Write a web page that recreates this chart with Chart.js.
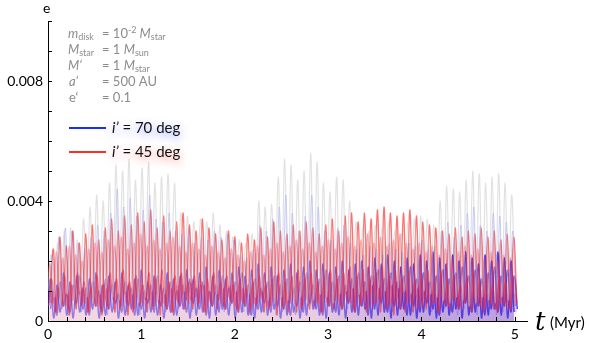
<!DOCTYPE html>
<html>
<head>
<meta charset="utf-8">
<script src="https://cdn.jsdelivr.net/npm/chart.js@4.4.1/dist/chart.umd.min.js"></script>
<style>
  html, body { margin: 0; background: #fff; }
</style>
</head>
<body>
<canvas id="chart" width="589" height="343"></canvas>
<script>
// time grid: one peak and one trough per half step (Myr)
const halfStep = 5 / 144;
const xLabels = [0, 1, 2, 3, 4, 5];
const yLabels = [0, 0.004, 0.008];

// eccentricity, peaks and troughs of each track
const grayPeaks = [
  0.0022, 0.0026, 0.0030, 0.0031, 0.0027, 0.0034, 0.0038, 0.0042, 0.0040, 0.0046,
  0.0052, 0.0050, 0.0054, 0.0047, 0.0051, 0.0053, 0.0046, 0.0048, 0.0049, 0.0046,
  0.0036, 0.0035, 0.0033, 0.0034, 0.0033, 0.0036, 0.0032, 0.0030, 0.0028, 0.0027,
  0.0026, 0.0029, 0.0040, 0.0038, 0.0039, 0.0048, 0.0054, 0.0052, 0.0047, 0.0050,
  0.0056, 0.0053, 0.0046, 0.0043, 0.0048, 0.0047, 0.0040, 0.0033, 0.0031, 0.0030,
  0.0032, 0.0031, 0.0033, 0.0030, 0.0029, 0.0033, 0.0034, 0.0035, 0.0034, 0.0032,
  0.0040, 0.0045, 0.0044, 0.0043, 0.0047, 0.0050, 0.0049, 0.0046, 0.0048, 0.0049,
  0.0046, 0.0042
];
const grayLows = [
  0.0010, 0.0008, 0.0006, 0.0009, 0.0007, 0.0010, 0.0008, 0.0006, 0.0009, 0.0011,
  0.0008, 0.0007, 0.0010, 0.0009, 0.0006, 0.0008, 0.0010, 0.0007, 0.0009, 0.0011,
  0.0012, 0.0010, 0.0013, 0.0011, 0.0012, 0.0010, 0.0009, 0.0011, 0.0012, 0.0010,
  0.0011, 0.0009, 0.0008, 0.0010, 0.0007, 0.0006, 0.0008, 0.0007, 0.0005, 0.0008,
  0.0006, 0.0007, 0.0009, 0.0008, 0.0006, 0.0009, 0.0010, 0.0011, 0.0009, 0.0010,
  0.0012, 0.0011, 0.0010, 0.0012, 0.0011, 0.0010, 0.0009, 0.0011, 0.0010, 0.0009,
  0.0008, 0.0007, 0.0006, 0.0008, 0.0007, 0.0005, 0.0006, 0.0008, 0.0007, 0.0006,
  0.0008, 0.0007, 0.0009
];

const blueFaintPeaks = [
  0.0022, 0.0028, 0.0031, 0.0030, 0.0026, 0.0024, 0.0028, 0.0032, 0.0030, 0.0036,
  0.0044, 0.0038, 0.0041, 0.0035, 0.0037, 0.0042, 0.0034, 0.0033, 0.0036, 0.0030,
  0.0029, 0.0031, 0.0026, 0.0028, 0.0027, 0.0030, 0.0028, 0.0029, 0.0027, 0.0022,
  0.0021, 0.0024, 0.0032, 0.0030, 0.0034, 0.0038, 0.0042, 0.0036, 0.0030, 0.0035,
  0.0042, 0.0038, 0.0030, 0.0027, 0.0031, 0.0032, 0.0026, 0.0024, 0.0022, 0.0025,
  0.0024, 0.0022, 0.0026, 0.0024, 0.0023, 0.0026, 0.0025, 0.0027, 0.0024, 0.0025,
  0.0030, 0.0033, 0.0028, 0.0032, 0.0036, 0.0038, 0.0032, 0.0030, 0.0036, 0.0035,
  0.0033, 0.0030
];
const blueFaintLows = [
  0.0005, 0.0003, 0.0004, 0.0002, 0.0005, 0.0003, 0.0004, 0.0006, 0.0003, 0.0002,
  0.0004, 0.0005, 0.0003, 0.0004, 0.0002, 0.0003, 0.0005, 0.0004, 0.0003, 0.0006,
  0.0004, 0.0005, 0.0003, 0.0004, 0.0006, 0.0005, 0.0004, 0.0003, 0.0005, 0.0004,
  0.0003, 0.0002, 0.0004, 0.0003, 0.0005, 0.0002, 0.0003, 0.0004, 0.0002, 0.0003,
  0.0005, 0.0004, 0.0003, 0.0005, 0.0004, 0.0006, 0.0004, 0.0003, 0.0005, 0.0004,
  0.0006, 0.0005, 0.0004, 0.0003, 0.0005, 0.0004, 0.0003, 0.0004, 0.0005, 0.0003,
  0.0002, 0.0004, 0.0003, 0.0002, 0.0004, 0.0003, 0.0002, 0.0003, 0.0004, 0.0002,
  0.0003, 0.0004, 0.0003
];

const redHighPeaks = [
  0.0024, 0.0028, 0.0025, 0.0030, 0.0026, 0.0029, 0.0032, 0.0027, 0.0031, 0.0034,
  0.0030, 0.0035, 0.0032, 0.0036, 0.0033, 0.0037, 0.0031, 0.0035, 0.0030, 0.0033,
  0.0036, 0.0032, 0.0030, 0.0034, 0.0031, 0.0029, 0.0027, 0.0030, 0.0028, 0.0026,
  0.0029, 0.0027, 0.0031, 0.0028, 0.0033, 0.0030, 0.0029, 0.0032, 0.0030, 0.0033,
  0.0031, 0.0029, 0.0032, 0.0034, 0.0030, 0.0035, 0.0036, 0.0033, 0.0036, 0.0034,
  0.0037, 0.0038, 0.0036, 0.0035, 0.0036, 0.0037, 0.0035, 0.0033, 0.0032, 0.0031,
  0.0030, 0.0029, 0.0031, 0.0028, 0.0030, 0.0029, 0.0031, 0.0028, 0.0030, 0.0027,
  0.0029, 0.0028
];
const redHighLows = [
  0.0006, 0.0003, 0.0005, 0.0002, 0.0004, 0.0006, 0.0003, 0.0005, 0.0002, 0.0004,
  0.0003, 0.0005, 0.0002, 0.0004, 0.0006, 0.0003, 0.0005, 0.0002, 0.0004, 0.0003,
  0.0005, 0.0007, 0.0004, 0.0006, 0.0003, 0.0005, 0.0007, 0.0004, 0.0006, 0.0003,
  0.0005, 0.0004, 0.0006, 0.0003, 0.0005, 0.0002, 0.0004, 0.0006, 0.0003, 0.0005,
  0.0004, 0.0006, 0.0003, 0.0005, 0.0007, 0.0004, 0.0006, 0.0003, 0.0005, 0.0004,
  0.0006, 0.0003, 0.0005, 0.0002, 0.0004, 0.0006, 0.0003, 0.0005, 0.0004, 0.0006,
  0.0003, 0.0005, 0.0007, 0.0004, 0.0006, 0.0003, 0.0005, 0.0004, 0.0006, 0.0003,
  0.0005, 0.0004, 0.0006
];

const redMidPeaks = [
  0.0019, 0.0023, 0.0021, 0.0025, 0.0022, 0.0020, 0.0024, 0.0026, 0.0023, 0.0027,
  0.0025, 0.0028, 0.0024, 0.0026, 0.0029, 0.0025, 0.0027, 0.0024, 0.0026, 0.0028,
  0.0025, 0.0023, 0.0026, 0.0024, 0.0022, 0.0025, 0.0023, 0.0021, 0.0024, 0.0022,
  0.0020, 0.0023, 0.0025, 0.0022, 0.0024, 0.0026, 0.0023, 0.0025, 0.0027, 0.0024,
  0.0026, 0.0023, 0.0025, 0.0027, 0.0024, 0.0026, 0.0028, 0.0025, 0.0027, 0.0029,
  0.0026, 0.0028, 0.0025, 0.0027, 0.0029, 0.0026, 0.0024, 0.0026, 0.0023, 0.0025,
  0.0022, 0.0024, 0.0021, 0.0023, 0.0025, 0.0022, 0.0024, 0.0021, 0.0023, 0.0020,
  0.0022, 0.0021
];
const redMidLows = [
  0.0009, 0.0006, 0.0008, 0.0005, 0.0007, 0.0009, 0.0006, 0.0008, 0.0005, 0.0007,
  0.0010, 0.0007, 0.0009, 0.0006, 0.0008, 0.0005, 0.0007, 0.0009, 0.0006, 0.0008,
  0.0007, 0.0009, 0.0006, 0.0008, 0.0010, 0.0007, 0.0009, 0.0006, 0.0008, 0.0005,
  0.0007, 0.0009, 0.0006, 0.0008, 0.0005, 0.0007, 0.0009, 0.0006, 0.0008, 0.0010,
  0.0007, 0.0009, 0.0006, 0.0008, 0.0005, 0.0007, 0.0009, 0.0006, 0.0008, 0.0007,
  0.0009, 0.0006, 0.0008, 0.0005, 0.0007, 0.0009, 0.0006, 0.0008, 0.0005, 0.0007,
  0.0006, 0.0008, 0.0005, 0.0007, 0.0004, 0.0006, 0.0008, 0.0005, 0.0007, 0.0004,
  0.0006, 0.0005, 0.0007
];

const redLowPeaks = [
  0.0014, 0.0011, 0.0015, 0.0012, 0.0016, 0.0013, 0.0011, 0.0015, 0.0012, 0.0016,
  0.0014, 0.0017, 0.0013, 0.0015, 0.0012, 0.0016, 0.0014, 0.0017, 0.0013, 0.0015,
  0.0016, 0.0013, 0.0015, 0.0012, 0.0014, 0.0016, 0.0013, 0.0015, 0.0012, 0.0014,
  0.0011, 0.0013, 0.0015, 0.0012, 0.0014, 0.0016, 0.0013, 0.0015, 0.0017, 0.0014,
  0.0016, 0.0013, 0.0015, 0.0017, 0.0014, 0.0016, 0.0018, 0.0015, 0.0017, 0.0014,
  0.0016, 0.0018, 0.0015, 0.0017, 0.0014, 0.0016, 0.0013, 0.0015, 0.0017, 0.0014,
  0.0016, 0.0013, 0.0015, 0.0012, 0.0014, 0.0016, 0.0013, 0.0015, 0.0012, 0.0014,
  0.0013, 0.0015
];
const redLowLows = [
  0.0005, 0.0003, 0.0006, 0.0004, 0.0007, 0.0005, 0.0003, 0.0006, 0.0004, 0.0005,
  0.0007, 0.0004, 0.0006, 0.0003, 0.0005, 0.0007, 0.0004, 0.0006, 0.0005, 0.0003,
  0.0006, 0.0004, 0.0007, 0.0005, 0.0003, 0.0006, 0.0004, 0.0005, 0.0007, 0.0004,
  0.0006, 0.0003, 0.0005, 0.0007, 0.0004, 0.0006, 0.0005, 0.0003, 0.0006, 0.0004,
  0.0007, 0.0005, 0.0003, 0.0006, 0.0004, 0.0005, 0.0007, 0.0004, 0.0006, 0.0003,
  0.0005, 0.0007, 0.0004, 0.0006, 0.0005, 0.0003, 0.0006, 0.0004, 0.0007, 0.0005,
  0.0003, 0.0006, 0.0004, 0.0005, 0.0007, 0.0004, 0.0006, 0.0003, 0.0005, 0.0004,
  0.0006, 0.0004, 0.0005
];

const blueLowAPeaks = [
  0.0014, 0.0012, 0.0016, 0.0013, 0.0015, 0.0011, 0.0014, 0.0016, 0.0012, 0.0015,
  0.0013, 0.0016, 0.0012, 0.0014, 0.0017, 0.0013, 0.0015, 0.0012, 0.0016, 0.0014,
  0.0015, 0.0017, 0.0014, 0.0016, 0.0018, 0.0015, 0.0017, 0.0014, 0.0016, 0.0018,
  0.0015, 0.0017, 0.0019, 0.0016, 0.0018, 0.0015, 0.0017, 0.0019, 0.0016, 0.0018,
  0.0020, 0.0017, 0.0019, 0.0016, 0.0018, 0.0020, 0.0017, 0.0019,
  0.0020, 0.0018, 0.0021, 0.0019, 0.0022, 0.0020, 0.0018, 0.0021, 0.0019, 0.0022,
  0.0020, 0.0023, 0.0021, 0.0019, 0.0022, 0.0020, 0.0023, 0.0021, 0.0019, 0.0022,
  0.0020, 0.0023, 0.0021, 0.0020
];
const blueLowALows = [
  0.0002, 0.0001, 0.0003, 0.0002, 0.0001, 0.0003, 0.0002, 0.0004, 0.0001, 0.0002,
  0.0003, 0.0001, 0.0002, 0.0004, 0.0002, 0.0001, 0.0003, 0.0002, 0.0001, 0.0003,
  0.0002, 0.0004, 0.0001, 0.0002, 0.0003, 0.0001, 0.0002, 0.0004, 0.0002, 0.0001,
  0.0003, 0.0002, 0.0001, 0.0003, 0.0002, 0.0004, 0.0001, 0.0002, 0.0003, 0.0001,
  0.0002, 0.0004, 0.0002, 0.0001, 0.0003, 0.0002, 0.0001, 0.0003, 0.0002, 0.0004,
  0.0001, 0.0002, 0.0003, 0.0001, 0.0002, 0.0004, 0.0002, 0.0001, 0.0003, 0.0002,
  0.0001, 0.0003, 0.0002, 0.0004, 0.0001, 0.0002, 0.0003, 0.0001, 0.0002, 0.0004,
  0.0002, 0.0001, 0.0003
];

const blueLowBPeaks = [
  0.0010, 0.0013, 0.0009, 0.0012, 0.0015, 0.0011, 0.0013, 0.0010, 0.0014, 0.0012,
  0.0009, 0.0013, 0.0011, 0.0014, 0.0010, 0.0012, 0.0015, 0.0011, 0.0013, 0.0010,
  0.0012, 0.0014, 0.0011, 0.0013, 0.0010, 0.0012, 0.0015, 0.0011, 0.0013, 0.0016,
  0.0012, 0.0014, 0.0011, 0.0013, 0.0015, 0.0012, 0.0014, 0.0011, 0.0013, 0.0016,
  0.0012, 0.0014, 0.0017, 0.0013, 0.0015, 0.0012, 0.0014, 0.0016, 0.0013, 0.0015,
  0.0017, 0.0014, 0.0016, 0.0013, 0.0015, 0.0018, 0.0014, 0.0016, 0.0013, 0.0015,
  0.0017, 0.0014, 0.0016, 0.0018, 0.0015, 0.0017, 0.0014, 0.0016, 0.0018, 0.0015,
  0.0017, 0.0015
];
const blueLowBLows = [
  0.0004, 0.0002, 0.0005, 0.0003, 0.0006, 0.0004, 0.0002, 0.0005, 0.0003, 0.0004,
  0.0006, 0.0003, 0.0005, 0.0002, 0.0004, 0.0006, 0.0003, 0.0005, 0.0004, 0.0002,
  0.0005, 0.0003, 0.0006, 0.0004, 0.0002, 0.0005, 0.0003, 0.0004, 0.0006, 0.0003,
  0.0005, 0.0002, 0.0004, 0.0006, 0.0003, 0.0005, 0.0004, 0.0002, 0.0005, 0.0003,
  0.0006, 0.0004, 0.0002, 0.0005, 0.0003, 0.0004, 0.0006, 0.0003, 0.0005, 0.0002,
  0.0004, 0.0006, 0.0003, 0.0005, 0.0004, 0.0002, 0.0005, 0.0003, 0.0006, 0.0004,
  0.0002, 0.0005, 0.0003, 0.0004, 0.0006, 0.0003, 0.0005, 0.0002, 0.0004, 0.0003,
  0.0005, 0.0003, 0.0004
];

// put troughs and peaks back in time order, shifted a little per track
function wave(lows, peaks, shift) {
  const pts = [];
  for (let i = 0; i < lows.length; i++) {
    pts.push({ x: shift + 2 * i * halfStep, y: lows[i] });
    if (i < peaks.length) pts.push({ x: shift + (2 * i + 1) * halfStep, y: peaks[i] });
  }
  return pts;
}

function track(data, color, width, haze) {
  return {
    data: data,
    borderColor: color,
    borderWidth: width,
    pointRadius: 0,
    tension: 0.4,
    fill: haze ? 'origin' : false,
    backgroundColor: haze || 'transparent'
  };
}

// horizontal colour ramp, so the blue gets denser toward the end of the run
function ramp(stops, fallback) {
  return (context) => {
    const area = context.chart.chartArea;
    if (!area) return fallback;
    const g = context.chart.ctx.createLinearGradient(area.left, 0, area.right, 0);
    for (const [at, col] of stops) g.addColorStop(at, col);
    return g;
  };
}

const blueHaze = ramp([[0, 'rgba(50,50,240,0.06)'], [0.55, 'rgba(50,50,240,0.12)'],
  [0.75, 'rgba(40,40,240,0.32)'], [1, 'rgba(40,40,240,0.38)']], 'rgba(40,40,240,0.2)');
const blueLineA = ramp([[0, 'rgba(25,35,255,0.55)'], [0.55, 'rgba(25,35,255,0.6)'],
  [0.75, 'rgba(25,30,255,0.85)'], [1, 'rgba(25,30,255,0.9)']], 'rgba(25,35,255,0.65)');
const blueLineB = ramp([[0, 'rgba(40,40,235,0.5)'], [0.55, 'rgba(40,40,235,0.55)'],
  [0.75, 'rgba(40,35,230,0.8)'], [1, 'rgba(40,35,230,0.85)']], 'rgba(40,40,235,0.6)');

// draws the inward tick marks, the axis names, the parameter block and the legend
const decorations = {
  id: 'decorations',
  afterDraw(chart) {
    const { ctx } = chart;
    const x = chart.scales.x;
    const y = chart.scales.y;
    ctx.save();
    ctx.strokeStyle = '#000';
    ctx.lineWidth = 1;
    ctx.beginPath();
    for (let i = 0; i <= 25; i++) {
      const px = Math.round(x.getPixelForValue(i * 0.2)) + 0.5;
      ctx.moveTo(px, y.bottom);
      ctx.lineTo(px, y.bottom - 4);
    }
    for (let i = 0; i <= 10; i++) {
      const py = Math.round(y.getPixelForValue(i * 0.001)) + 0.5;
      ctx.moveTo(x.left, py);
      ctx.lineTo(x.left + 4, py);
    }
    ctx.stroke();

    ctx.fillStyle = '#000';
    ctx.textBaseline = 'middle';
    ctx.font = '14px Lato';
    ctx.fillText('e', 43, 8);
    ctx.font = 'italic 26px "DejaVu Serif"';
    ctx.textBaseline = 'alphabetic';
    ctx.fillText('t', 535, 330);
    ctx.font = '15px Lato';
    ctx.textBaseline = 'middle';
    ctx.fillText('(Myr)', 550, 323);

    // parameter block
    ctx.fillStyle = '#8c8c8c';
    const runs = (x0, yy, parts) => {
      let cx = x0;
      for (const p of parts) {
        const size = p.sub || p.sup ? 9 : 13;
        ctx.font = (p.it ? 'italic ' : '') + size + 'px Lato';
        const dy = p.sub ? 3 : (p.sup ? -4 : 0);
        ctx.fillText(p.t, cx, yy + dy);
        cx += ctx.measureText(p.t).width;
      }
    };
    runs(68, 34, [{ t: 'm', it: true }, { t: 'disk', sub: true }]);
    runs(102, 34, [{ t: '= 10' }, { t: '-2', sup: true }, { t: ' M', it: true }, { t: 'star', sub: true }]);
    runs(68, 50, [{ t: 'M', it: true }, { t: 'star', sub: true }]);
    runs(102, 50, [{ t: '= 1 ' }, { t: 'M', it: true }, { t: 'sun', sub: true }]);
    runs(68, 66, [{ t: 'M‘', it: true }]);
    runs(102, 66, [{ t: '= 1 ' }, { t: 'M', it: true }, { t: 'star', sub: true }]);
    runs(69, 82, [{ t: 'a‘', it: true }]);
    runs(102, 82, [{ t: '= 500 AU' }]);
    runs(69, 98, [{ t: 'e‘' }]);
    runs(102, 98, [{ t: '= 0.1' }]);

    // legend
    const legend = [
      { label: ' = 70 deg', color: 'rgb(25,45,255)', glow: 'rgba(60,80,255,0.6)', y: 128 },
      { label: ' = 45 deg', color: 'rgb(255,45,35)', glow: 'rgba(255,70,60,0.6)', y: 152 }
    ];
    for (const item of legend) {
      ctx.strokeStyle = item.color;
      ctx.lineWidth = 2;
      ctx.beginPath();
      ctx.moveTo(69, item.y);
      ctx.lineTo(106, item.y);
      ctx.stroke();
      ctx.save();
      ctx.shadowColor = item.glow;
      ctx.shadowBlur = 9;
      ctx.shadowOffsetY = 3;
      ctx.fillStyle = '#111';
      ctx.font = 'italic 15px Lato';
      ctx.fillText('i’', 112, item.y);
      const w = ctx.measureText('i’').width;
      ctx.font = '15px Lato';
      ctx.fillText(item.label, 112 + w, item.y);
      ctx.restore();
    }
    ctx.restore();
  }
};

Chart.defaults.font.family = 'Lato';
Chart.defaults.color = '#000';

new Chart(document.getElementById('chart'), {
  type: 'line',
  data: {
    datasets: [
      track(wave(grayLows, grayPeaks, 0), 'rgba(200,200,200,0.55)', 1.2),
      track(wave(blueFaintLows, blueFaintPeaks, 0.012), 'rgba(70,80,255,0.28)', 1),
      track(wave(redHighLows, redHighPeaks, 0.022), 'rgba(255,40,40,0.65)', 1.3, 'rgba(255,90,90,0.10)'),
      track(wave(redMidLows, redMidPeaks, -0.015), 'rgba(255,60,55,0.45)', 1.3, 'rgba(255,90,90,0.08)'),
      track(wave(redLowLows, redLowPeaks, 0.006), 'rgba(225,25,70,0.55)', 1.3),
      track(wave(blueLowALows, blueLowAPeaks, -0.008), blueLineA, 1.5, blueHaze),
      track(wave(blueLowBLows, blueLowBPeaks, 0.026), blueLineB, 1.5)
    ]
  },
  options: {
    responsive: false,
    animation: false,
    layout: { padding: { top: 21, right: 62, left: 0, bottom: 0 } },
    plugins: { legend: { display: false }, tooltip: { enabled: false } },
    scales: {
      x: {
        type: 'linear',
        min: 0,
        max: 5.13,
        grid: { display: false, drawTicks: false },
        border: { display: true, color: '#000', width: 1 },
        afterBuildTicks: (scale) => { scale.ticks = xLabels.map(v => ({ value: v })); },
        afterFit: (scale) => { scale.height = 22; },
        ticks: { padding: 5, font: { size: 14 }, autoSkip: false, maxRotation: 0, callback: v => String(v) }
      },
      y: {
        min: 0,
        max: 0.01,
        grid: { display: false, drawTicks: false },
        border: { display: true, color: '#000', width: 1 },
        afterBuildTicks: (scale) => { scale.ticks = yLabels.map(v => ({ value: v })); },
        afterFit: (scale) => { scale.width = 48; },
        ticks: { padding: 5, font: { size: 14 }, autoSkip: false, callback: v => (v === 0 ? '0' : v.toFixed(3)) }
      }
    }
  },
  plugins: [decorations]
});
</script>
</body>
</html>
